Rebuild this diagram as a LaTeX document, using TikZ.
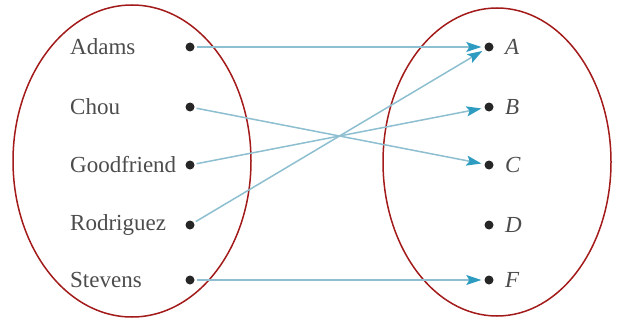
\documentclass[tikz,border=0pt]{standalone}
\usepackage{fontspec}
\setmainfont{Liberation Serif}
\usepackage{xcolor}
\usetikzlibrary{arrows.meta, positioning}
\definecolor{setred}{HTML}{A31A1A}
\definecolor{mapline}{HTML}{8DBFD0}
\definecolor{maptip}{HTML}{2E9CC0}
\tikzset{
    % Basic node styles
    elem/.style={circle, fill=black!85, minimum size=9pt, inner sep=0pt},
    student/.style={anchor=west, font=\fontsize{23}{27}\selectfont, text=black!70, inner sep=0pt},
    grade/.style={anchor=west, font=\fontsize{23}{27}\selectfont\itshape, text=black!70, inner sep=0pt},
    % Set outline
    setoval/.style={draw=setred, line width=1.5pt},
    % Arrow styles
    maparrow/.style={-{Stealth[length=15pt, width=10pt, inset=3pt, color=maptip]}, draw=mapline, line width=1.5pt, shorten >=3pt, shorten <=2pt},
}

\begin{document}
\begin{tikzpicture}[x=1pt, y=-1pt]
    \useasboundingbox (0,0) rectangle (618,321);

    % Sets
    \draw[setoval] (132,161) ellipse [x radius=119, y radius=156];
    \draw[setoval] (497,162) ellipse [x radius=114, y radius=154];

    % Domain
    \node[elem] (adams) at (190,47) {};
    \node[elem] (chou) at (190,107) {};
    \node[elem] (good) at (190,165) {};
    \node[elem] (rodr) at (190,225) {};
    \node[elem] (stev) at (190,280) {};
    \node[student] (adamsL) at (70,47) {Adams};
    \node[student] (chouL) at (70,107) {Chou};
    \node[student] (goodL) at (70,165) {Goodfriend};
    \node[student] (rodrL) at (70,225) {Rodriguez};
    \node[student] (stevL) at (70,280) {Stevens};

    % Codomain
    \node[elem] (A) at (489,47) {};
    \node[elem] (B) at (489,107) {};
    \node[elem] (C) at (489,165) {};
    \node[elem] (D) at (489,225) {};
    \node[elem] (F) at (489,280) {};
    \node[grade] (AL) at (505,47) {A};
    \node[grade] (BL) at (505,107) {B};
    \node[grade] (CL) at (505,165) {C};
    \node[grade] (DL) at (505,225) {D};
    \node[grade] (FL) at (505,280) {F};

    % Grades
    \draw[maparrow] (adams) -- (A);
    \draw[maparrow] (chou) -- (C);
    \draw[maparrow] (good) -- (B);
    \draw[maparrow] (rodr) -- (A);
    \draw[maparrow] (stev) -- (F);
\end{tikzpicture}
\end{document}
